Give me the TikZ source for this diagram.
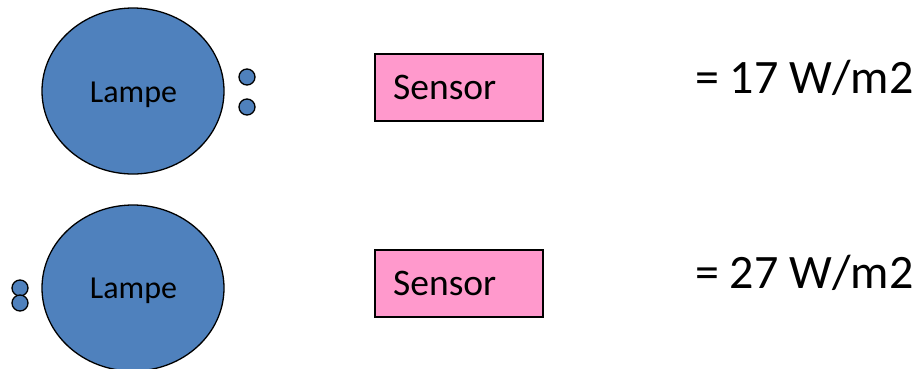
\documentclass[tikz,border=0pt]{standalone}
\usepackage{fontspec}
\setmainfont{Carlito}
\usetikzlibrary{shapes.geometric}
\definecolor{lampblue}{HTML}{4F81BD}
\definecolor{sensorpink}{HTML}{FF99CC}
\tikzset{
  lamp/.style={ellipse, draw=black, line width=1.3pt, fill=lampblue,
    minimum width=182pt, minimum height=166pt, inner sep=0pt},
  bead/.style={circle, draw=black, line width=1.3pt, fill=lampblue,
    minimum size=16pt, inner sep=0pt},
  sensorbox/.style={rectangle, draw=black, line width=1.2pt, fill=sensorpink,
    minimum width=168pt, minimum height=67pt, inner sep=0pt},
  lbl/.style={anchor=base, inner sep=0pt, text=black},
  lblw/.style={anchor=base west, inner sep=0pt, text=black},
  lampfont/.style={font=\fontsize{32}{38}\selectfont},
  sensfont/.style={font=\fontsize{37.5}{44}\selectfont},
  valfont/.style={font=\fontsize{48}{56}\selectfont},
}
\begin{document}
\begin{tikzpicture}[x=1pt, y=-1pt]
  \useasboundingbox (0,0) rectangle (919,368);
  % upper row
  \node[lamp] (lamp1) at (133,91) {};
  \node[lbl, lampfont] (lamptext1) at (133.5,102) {Lampe};
  \node[bead] (b1a) at (247,77) {};
  \node[bead] (b1b) at (247,107) {};
  \node[sensorbox] (sens1) at (459,87.5) {};
  \node[lblw, sensfont] (senstext1) at (393,99) {Sensor};
  \node[lblw, valfont] (val1) at (695,93) {= 17 W/m2};
  % lower row
  \node[lamp] (lamp2) at (133,288) {};
  \node[lbl, lampfont] (lamptext2) at (133.5,298) {Lampe};
  \node[bead] (b2a) at (20,288) {};
  \node[bead] (b2b) at (20,303) {};
  \node[sensorbox] (sens2) at (459,283.5) {};
  \node[lblw, sensfont] (senstext2) at (393,295) {Sensor};
  \node[lblw, valfont] (val2) at (695,288) {= 27 W/m2};
\end{tikzpicture}
\end{document}
